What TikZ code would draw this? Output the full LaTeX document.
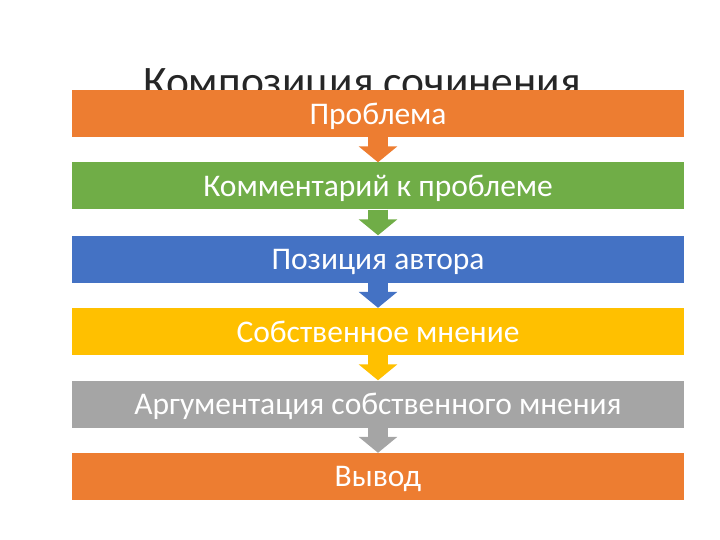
\documentclass[tikz,border=0pt]{standalone}
\usepackage{fontspec}
\setmainfont{Carlito}
\usetikzlibrary{arrows.meta}
\definecolor{cOrange}{HTML}{ED7D31}
\definecolor{cGreen}{HTML}{70AD47}
\definecolor{cBlue}{HTML}{4472C4}
\definecolor{cYellow}{HTML}{FFC000}
\definecolor{cGray}{HTML}{A5A5A5}
\begin{document}
\begin{tikzpicture}[x=1pt,y=-1pt,
  bar/.style={minimum width=612pt, minimum height=47pt, inner sep=0pt, text=white,
    text depth=0pt, font=\fontsize{31.5}{31.5}\selectfont},
  flowarrow/.style={line width=20pt, -{Triangle[width=38pt,length=16pt]}}]
\useasboundingbox (0,0) rectangle (720,540);
\node[anchor=base, font=\fontsize{43.5}{43.5}\selectfont, text=black!85] (title) at (362,97) {Композиция сочинения};
\node[bar, fill=cOrange] (b1) at (378,113.5) {Проблема};
\node[bar, fill=cGreen] (b2) at (378,186) {Комментарий к проблеме};
\node[bar, fill=cBlue] (b3) at (378,259) {Позиция автора};
\node[bar, fill=cYellow] (b4) at (378,331.5) {Собственное мнение};
\node[bar, fill=cGray] (b5) at (378,404) {Аргументация собственного мнения};
\node[bar, fill=cOrange] (b6) at (378,476.5) {Вывод};
\draw[flowarrow, cOrange] (b1.south) -- (b2.north);
\draw[flowarrow, cGreen] (b2.south) -- (b3.north);
\draw[flowarrow, cBlue] (b3.south) -- (b4.north);
\draw[flowarrow, cYellow] (b4.south) -- (b5.north);
\draw[flowarrow, cGray] (b5.south) -- (b6.north);
\end{tikzpicture}
\end{document}
